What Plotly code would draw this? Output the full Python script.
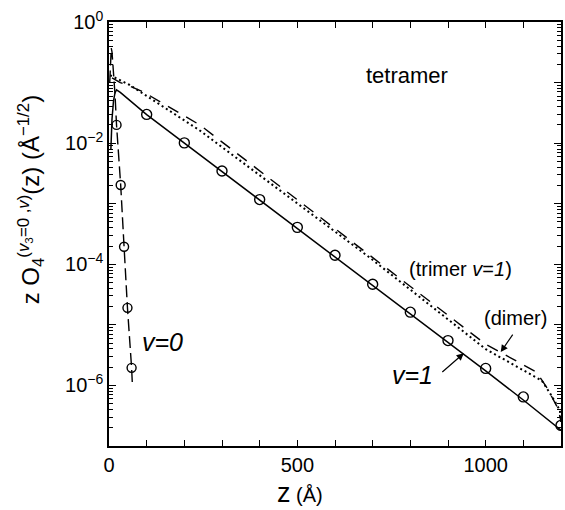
import plotly.graph_objects as go

# ---- data ----
z_v1_line = [5, 8, 12, 16, 20, 30, 100, 200, 300, 400, 500, 600, 700, 800, 900, 1000, 1100, 1200]
o_v1_line = [7.9e-3, 2.5e-2, 5.0e-2, 6.8e-2, 7.6e-2, 6.9e-2, 2.95e-2, 1.0e-2, 3.39e-3, 1.15e-3,
             3.89e-4, 1.35e-4, 4.47e-5, 1.51e-5, 5.13e-6, 1.74e-6, 5.75e-7, 1.82e-7]

z_v1_pts = [100, 200, 300, 400, 500, 600, 700, 800, 900, 1000, 1100, 1200]
o_v1_pts = [2.98e-2, 1.01e-2, 3.47e-3, 1.17e-3, 4.07e-4, 1.41e-4, 4.68e-5, 1.62e-5,
            5.50e-6, 1.91e-6, 6.46e-7, 2.19e-7]

z_v0_line = [2, 4, 6, 8, 12, 16, 20, 31, 40, 49, 60, 62]
o_v0_line = [0.1, 0.25, 0.37, 0.32, 0.16, 0.063, 0.02, 2.04e-3, 1.95e-4, 1.91e-5, 1.95e-6, 1.07e-6]

z_v0_pts = [20, 31, 40, 49, 60]
o_v0_pts = [2.0e-2, 2.04e-3, 1.95e-4, 1.91e-5, 1.95e-6]

z_trimer = [3, 10, 16, 55, 241, 690, 1000, 1100, 1149, 1175, 1197, 1200]
o_trimer = [0.132, 0.126, 0.120, 0.0912, 0.0162, 1.32e-4, 3.98e-6, 1.78e-6, 1.20e-6,
            6.76e-7, 3.89e-7, 2.51e-7]

z_dimer = [8, 30, 55, 90, 241, 638, 1000, 1100, 1135, 1162, 1193, 1200]
o_dimer = [0.120, 0.100, 0.0871, 0.0708, 0.0200, 2.51e-4, 4.79e-6, 2.19e-6, 1.66e-6,
           9.33e-7, 4.07e-7, 2.51e-7]

y_decades = [1e-7, 1e-6, 1e-5, 1e-4, 1e-3, 1e-2, 1e-1, 1e0]
y_ticktext = ["", "10<sup>−6</sup>", "", "10<sup>−4</sup>", "", "10<sup>−2</sup>", "", "10<sup>0</sup>"]
x_tickvals = [0, 500, 1000]
x_ticktext = ["0", "500", "1000"]

FONT = "Liberation Sans, Arial, sans-serif"
W, H = 565, 510
L, R, T, B = 109, 2, 22, 64
PW, PH = W - L - R, H - T - B


def px(x):
    return (x - L) / PW


def py(y):
    return (H - B - y) / PH


fig = go.Figure()
fig.add_trace(go.Scatter(x=z_dimer, y=o_dimer, mode="lines",
                         line=dict(color="black", width=1.4, dash="12px,9px")))
fig.add_trace(go.Scatter(x=z_trimer, y=o_trimer, mode="lines",
                         line=dict(color="black", width=2, dash="2px,3px")))
fig.add_trace(go.Scatter(x=z_v1_line, y=o_v1_line, mode="lines",
                         line=dict(color="black", width=1.5)))
fig.add_trace(go.Scatter(x=z_v0_line, y=o_v0_line, mode="lines",
                         line=dict(color="black", width=1.4, dash="12px,5px")))
fig.add_trace(go.Scatter(x=z_v1_pts, y=o_v1_pts, mode="markers",
                         marker=dict(symbol="circle-open", size=10, color="black",
                                     line=dict(width=1.4, color="black"))))
fig.add_trace(go.Scatter(x=z_v0_pts, y=o_v0_pts, mode="markers",
                         marker=dict(symbol="circle-open", size=9, color="black",
                                     line=dict(width=1.4, color="black"))))

axis_common = dict(showline=True, linecolor="black", linewidth=1.5, mirror="allticks",
                   ticks="inside", tickcolor="black", tickwidth=1.2, showgrid=False,
                   zeroline=False, tickfont=dict(family=FONT, size=20, color="black"))

fig.update_xaxes(range=[0, 1200], tickmode="array", tickvals=x_tickvals, ticktext=x_ticktext,
                 ticklen=6, minor=dict(dtick=100, ticks="inside", ticklen=6,
                                       tickcolor="black", tickwidth=1.2),
                 **axis_common)
fig.update_yaxes(type="log", range=[-7, 0], tickmode="array", tickvals=y_decades,
                 ticktext=y_ticktext, ticklen=7,
                 minor=dict(dtick="D1", ticks="inside", ticklen=4, tickcolor="black",
                            tickwidth=1),
                 **axis_common)

annots = [
    dict(x=px(31), y=py(200), textangle=-90,
         text="z O<sub>4</sub><sup>(<i>v</i><sub>3</sub>=0 ,<i>v</i>)</sup>(z) (Å<sup>−1/2</sup>)",
         font=dict(size=24)),
    dict(x=px(301), y=py(493),
         text="<span style='font-size:27px'>z</span> (Å)", font=dict(size=20)),
    dict(x=px(408), y=py(75), text="tetramer", font=dict(size=22)),
    dict(x=px(462), y=py(269), text="(trimer <i>v</i>=<i>1</i>)", font=dict(size=20)),
    dict(x=px(517), y=py(318), text="(dimer)", font=dict(size=20)),
    dict(x=px(163), y=py(342), text="<i>v=0</i>", font=dict(size=25)),
    dict(x=px(414), y=py(375), text="<i>v=1</i>", font=dict(size=25)),
]
for a in annots:
    a.update(xref="paper", yref="paper", showarrow=False, xanchor="center", yanchor="middle")
    a["font"].update(family=FONT, color="black")
    fig.add_annotation(**a)

# arrows (tip in data coords, tail offset in pixels)
fig.add_annotation(x=942, y=-5.47, xref="x", yref="y", ax=-23, ay=20, text="",
                   showarrow=True, arrowhead=2, arrowsize=1.2, arrowwidth=1.2, arrowcolor="black")
fig.add_annotation(x=1040, y=-5.45, xref="x", yref="y", ax=13, ay=-19, text="",
                   showarrow=True, arrowhead=2, arrowsize=1.2, arrowwidth=1.2, arrowcolor="black")

fig.update_layout(width=W, height=H, margin=dict(l=L, r=R, t=T, b=B),
                  paper_bgcolor="white", plot_bgcolor="white", showlegend=False,
                  font=dict(family=FONT, color="black"))

fig.write_html("out.html")
